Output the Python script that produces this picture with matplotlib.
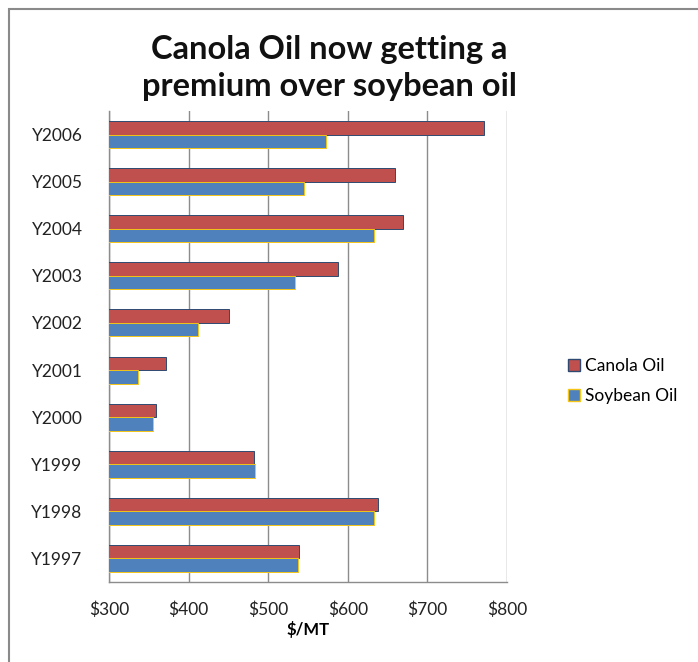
import matplotlib
matplotlib.use("Agg")
import matplotlib.pyplot as plt
from matplotlib.patches import Rectangle
from matplotlib.lines import Line2D
from matplotlib.ticker import FuncFormatter
import numpy as np

plt.rcParams['font.family'] = ['Lato', 'DejaVu Sans']

years = ["Y1997", "Y1998", "Y1999", "Y2000", "Y2001",
         "Y2002", "Y2003", "Y2004", "Y2005", "Y2006"]
canola = [539, 638, 482, 359, 372, 451, 588, 669, 659, 771]
soybean = [537, 633, 483, 355, 336, 412, 534, 633, 545, 572]
x_ticks = [300, 400, 500, 600, 700, 800]

RED = "#C0504D"
BLUE = "#4F81BD"
GRID = "#8C8C8C"

W, H = 698, 662
fig = plt.figure(figsize=(W / 100, H / 100), dpi=100)

# outer chart border
fig.add_artist(Rectangle((9 / W, -0.05), 1.2, 1 - 9 / H + 0.05,
                         transform=fig.transFigure, fill=False,
                         edgecolor="#8A8A8A", linewidth=1.5))

ax = fig.add_axes([109 / W, (H - 582) / H, (507 - 109) / W, (582 - 111) / H])

y = np.arange(len(years))
bh = 0.287
ax.barh(y + bh / 2, canola, height=bh, left=0, color=RED,
        edgecolor="#2E4A70", linewidth=0.7, zorder=3, label="Canola Oil")
ax.barh(y - bh / 2, soybean, height=bh, left=0, color=BLUE,
        edgecolor="#F5C518", linewidth=0.7, zorder=3, label="Soybean Oil")

ax.set_xlim(300, 800)
ax.set_ylim(-0.5, len(years) - 0.5)
ax.set_xticks(x_ticks)
ax.xaxis.set_major_formatter(FuncFormatter(lambda v, p: f"${v:.0f}"))
ax.set_yticks(y)
ax.set_yticklabels(years)
ax.grid(axis="x", color=GRID, linewidth=1.0, zorder=0)
ax.tick_params(axis="both", length=0, labelsize=12.5, colors="#222222")
ax.tick_params(axis="x", pad=14)
ax.tick_params(axis="y", pad=19)

for s in ["top", "right"]:
    ax.spines[s].set_visible(False)
for s in ["left", "bottom"]:
    ax.spines[s].set_color(GRID)
    ax.spines[s].set_linewidth(1.0)

ax.set_xlabel("$/MT", fontsize=12, fontweight="bold", labelpad=2)

fig.text(329 / W, 1 - 68 / H, "Canola Oil now getting a\npremium over soybean oil",
         ha="center", va="center", fontsize=23.5, fontweight="bold",
         linespacing=1.3, color="#111111")

handles = [
    Line2D([], [], marker="s", linestyle="none", markersize=8,
           markerfacecolor=RED, markeredgecolor="#2E4A70", markeredgewidth=1),
    Line2D([], [], marker="s", linestyle="none", markersize=8,
           markerfacecolor=BLUE, markeredgecolor="#F5C518", markeredgewidth=1),
]
fig.legend(handles, ["Canola Oil", "Soybean Oil"], loc="center left",
           bbox_to_anchor=(552 / W, 1 - 381 / H), frameon=False,
           fontsize=12.5, handlelength=0.7, handletextpad=0.3, labelspacing=0.85)

fig.savefig("out.png", dpi=100)
